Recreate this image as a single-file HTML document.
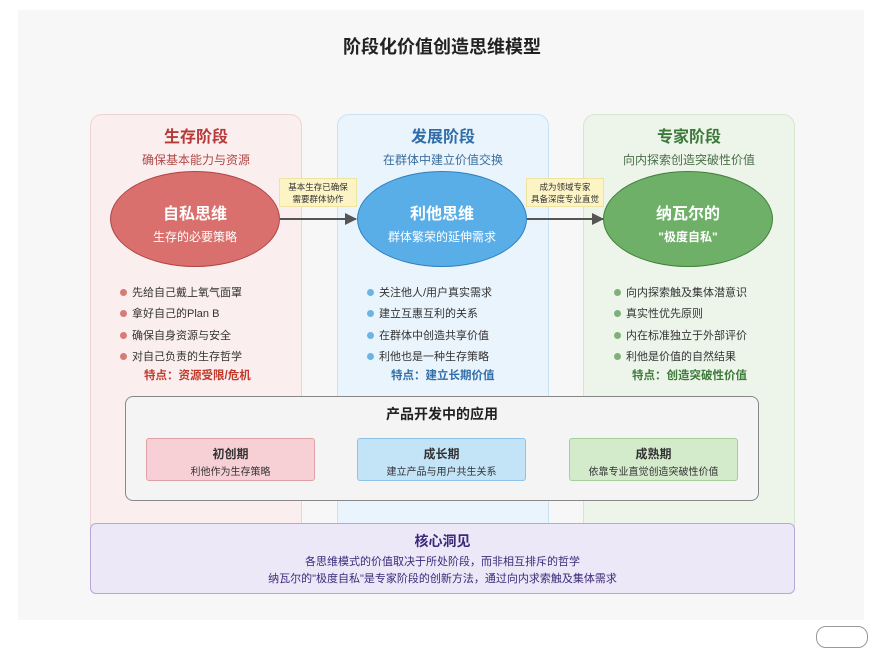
<!DOCTYPE html>
<html><head><meta charset="utf-8"><style>
body{margin:0;width:878px;height:634px;background:#fff;font-family:"Liberation Sans","Noto Sans CJK SC",sans-serif;position:relative;overflow:hidden}
.card{position:absolute;left:18px;top:10px;width:846px;height:610px;background:#f7f7f7}
.abs{position:absolute}
.c{text-align:center}
.panel{position:absolute;top:114px;width:210px;height:420px;border-radius:12px;border:1px solid}
.pt{position:absolute;width:210px;text-align:center;font-weight:bold;font-size:16px;top:123px}
.ps{position:absolute;width:210px;text-align:center;font-size:12px;top:151px}
.ell{position:absolute;width:170px;height:96px;border-radius:50%;top:171px;border:1.5px solid;box-sizing:border-box;color:#fff;text-align:center}
.ell b{display:block;font-size:16px;margin-top:28px}
.ell span{display:block;font-size:12px;margin-top:4px}
.lab{position:absolute;top:178px;width:78px;height:29px;background:#fdf4c6;border:1px solid #efe3a0;font-size:8.5px;line-height:12px;text-align:center;box-sizing:border-box;padding-top:2px;color:#333}
.bl{position:absolute;font-size:11px;color:#333;line-height:21.3px}
.bl div{position:relative;padding-left:12px}
.bl div:before{content:"";position:absolute;left:0;top:6px;width:7px;height:7px;border-radius:50%;background:var(--d)}
.feat{position:absolute;font-size:11.5px;font-weight:bold;top:367px}
.sb{position:absolute;top:438px;width:169px;height:43px;border-radius:3px;border:1px solid;box-sizing:border-box;text-align:center;font-size:10px;color:#333}
.sb b{display:block;font-size:12px;margin-top:6px;margin-bottom:1px}
</style></head><body>
<div class="card"></div>
<div class="abs c" style="left:0;width:884px;top:33px;font-size:18px;font-weight:bold;color:#222">阶段化价值创造思维模型</div>

<div class="panel" style="left:90px;background:#fbeeee;border-color:#f0d2d2"></div>
<div class="panel" style="left:337px;background:#eaf4fc;border-color:#c9e2f4"></div>
<div class="panel" style="left:583px;background:#edf5ea;border-color:#d5e6cf"></div>

<div class="pt" style="left:91px;color:#b63a3a">生存阶段</div>
<div class="ps" style="left:91px;color:#b04848">确保基本能力与资源</div>
<div class="pt" style="left:338px;color:#2f6ea8">发展阶段</div>
<div class="ps" style="left:338px;color:#3a6e9e">在群体中建立价值交换</div>
<div class="pt" style="left:584px;color:#3d7a3a">专家阶段</div>
<div class="ps" style="left:584px;color:#4a6e48">向内探索创造突破性价值</div>

<svg class="abs" style="left:0;top:0" width="878" height="634">
<defs><marker id="a" markerWidth="12" markerHeight="12" refX="11" refY="6" orient="auto" markerUnits="userSpaceOnUse"><path d="M0,0 L12,6 L0,12 Z" fill="#555"/></marker></defs>
<line x1="280" y1="219" x2="356" y2="219" stroke="#555" stroke-width="2" marker-end="url(#a)"/>
<line x1="527" y1="219" x2="603" y2="219" stroke="#555" stroke-width="2" marker-end="url(#a)"/>
</svg>

<div class="ell" style="left:110px;background:#d9706d;border-color:#b04545"><b>自私思维</b><span>生存的必要策略</span></div>
<div class="ell" style="left:357px;background:#5aaee8;border-color:#2f7fbf"><b>利他思维</b><span>群体繁荣的延伸需求</span></div>
<div class="ell" style="left:603px;background:#6fb069;border-color:#3f7f3a"><b>纳瓦尔的</b><span style="font-weight:bold">"极度自私"</span></div>

<div class="lab" style="left:279px">基本生存已确保<br>需要群体协作</div>
<div class="lab" style="left:526px">成为领域专家<br>具备深度专业直觉</div>

<div class="bl" style="left:120px;top:283px;--d:#d77a78"><div>先给自己戴上氧气面罩</div><div>拿好自己的Plan B</div><div>确保自身资源与安全</div><div>对自己负责的生存哲学</div></div>
<div class="bl" style="left:367px;top:283px;--d:#6db3e4"><div>关注他人/用户真实需求</div><div>建立互惠互利的关系</div><div>在群体中创造共享价值</div><div>利他也是一种生存策略</div></div>
<div class="bl" style="left:614px;top:283px;--d:#7fb07a"><div>向内探索触及集体潜意识</div><div>真实性优先原则</div><div>内在标准独立于外部评价</div><div>利他是价值的自然结果</div></div>
<div class="feat" style="left:144px;color:#c0392b">特点：资源受限/危机</div>
<div class="feat" style="left:391px;color:#2f6ea8">特点：建立长期价值</div>
<div class="feat" style="left:632px;color:#3d7a3a">特点：创造突破性价值</div>

<div class="abs" style="left:125px;top:396px;width:634px;height:105px;background:#f4f4f4;border:1px solid #888;border-radius:8px;box-sizing:border-box"></div>
<div class="abs c" style="left:125px;width:634px;top:404px;font-size:14px;font-weight:bold;color:#222">产品开发中的应用</div>
<div class="sb" style="left:146px;background:#f6d0d5;border-color:#e0a0a8"><b>初创期</b>利他作为生存策略</div>
<div class="sb" style="left:357px;background:#c3e3f7;border-color:#8cc3e6"><b>成长期</b>建立产品与用户共生关系</div>
<div class="sb" style="left:569px;background:#d3eacb;border-color:#a5cf98"><b>成熟期</b>依靠专业直觉创造突破性价值</div>

<div class="abs" style="left:90px;top:523px;width:705px;height:71px;background:#ede8f7;border:1px solid #b7a8d8;border-radius:6px;box-sizing:border-box"></div>
<div class="abs c" style="left:90px;width:705px;top:531px;font-size:14px;font-weight:bold;color:#3b2a7a">核心洞见</div>
<div class="abs c" style="left:90px;width:705px;top:554px;font-size:11px;color:#3b2a7a;line-height:17px">各思维模式的价值取决于所处阶段，而非相互排斥的哲学<br>纳瓦尔的"极度自私"是专家阶段的创新方法，通过向内求索触及集体需求</div>
<div class="abs" style="left:816px;top:626px;width:50px;height:20px;border:1px solid #999;border-radius:10px;background:#fff"></div>
</body></html>
